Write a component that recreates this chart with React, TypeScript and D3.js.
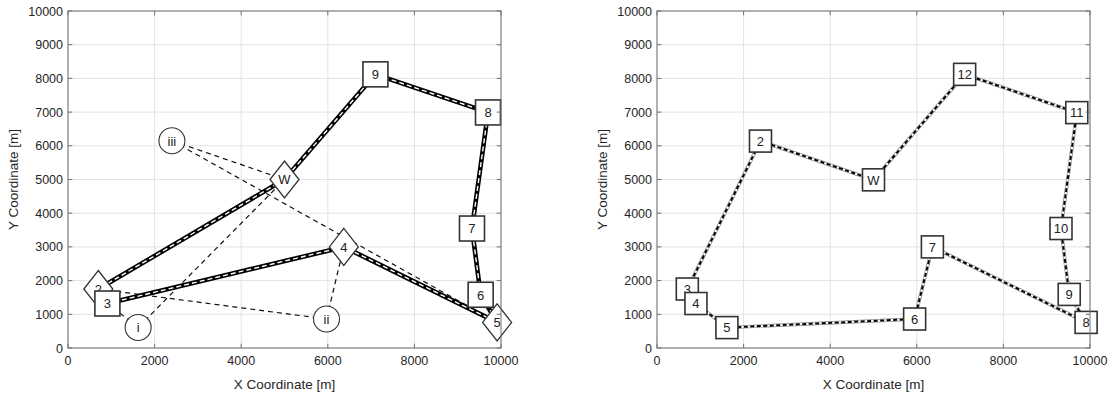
import React from "react";
import * as d3 from "d3";

// ---------- Left panel data ----------
const leftLabels = ["W", "2", "3", "4", "5", "6", "7", "8", "9"];
const leftX = [5000, 700, 910, 6370, 9910, 9530, 9330, 9700, 7100];
const leftY = [5000, 1750, 1320, 3000, 760, 1580, 3545, 6990, 8120];
const leftShapes = ["diamond", "diamond", "square", "diamond", "diamond", "square", "square", "square", "square"];
const leftRoute = ["W", "2", "3", "4", "5", "6", "7", "8", "9", "W"];

const relayLabels = ["i", "ii", "iii"];
const relayX = [1620, 5970, 2400];
const relayY = [610, 860, 6150];
const relayLinks: [string, string][] = [
  ["i", "W"], ["i", "3"],
  ["ii", "2"], ["ii", "4"],
  ["iii", "W"], ["iii", "5"],
];

// ---------- Right panel data ----------
const rightLabels = ["W", "2", "3", "4", "5", "6", "7", "8", "9", "10", "11", "12"];
const rightX = [5000, 2390, 700, 900, 1615, 5950, 6360, 9910, 9520, 9330, 9695, 7105];
const rightY = [4990, 6140, 1750, 1320, 605, 860, 3000, 760, 1590, 3545, 6985, 8120];
const rightRoute = ["W", "2", "3", "4", "5", "6", "7", "8", "9", "10", "11", "12", "W"];

const xTicks = [0, 2000, 4000, 6000, 8000, 10000];
const yTicks = [0, 1000, 2000, 3000, 4000, 5000, 6000, 7000, 8000, 9000, 10000];
const xLabel = "X Coordinate [m]";
const yLabel = "Y Coordinate [m]";

const FONT = "'Liberation Sans', Arial, Helvetica, sans-serif";
const TXT = "#262626";
const AX = "#707070";

type Scale = d3.ScaleLinear<number, number>;

function Axes({ x, y }: { x: Scale; y: Scale }) {
  const [x0, x1] = x.range();
  const [y0, y1] = y.range();
  const tl = 4.3;
  return (
    <g>
      {xTicks.map((t) => (
        <line key={"gx" + t} x1={x(t)} x2={x(t)} y1={y0} y2={y1} stroke="#e3e3e3" strokeWidth={1} />
      ))}
      {yTicks.map((t) => (
        <line key={"gy" + t} x1={x0} x2={x1} y1={y(t)} y2={y(t)} stroke="#e3e3e3" strokeWidth={1} />
      ))}
    </g>
  );
}

function Frame({ x, y }: { x: Scale; y: Scale }) {
  const [x0, x1] = x.range();
  const [y0, y1] = y.range();
  const tl = 4.3;
  return (
    <g>
      <rect x={x0} y={y1} width={x1 - x0} height={y0 - y1} fill="none" stroke={AX} strokeWidth={1} />
      {xTicks.map((t) => (
        <g key={"tx" + t}>
          <line x1={x(t)} x2={x(t)} y1={y0} y2={y0 - tl} stroke={AX} />
          <line x1={x(t)} x2={x(t)} y1={y1} y2={y1 + tl} stroke={AX} />
          <text x={x(t)} y={y0 + 17} textAnchor="middle" fontSize={12.5} fill={TXT} fontFamily={FONT}>
            {t}
          </text>
        </g>
      ))}
      {yTicks.map((t) => (
        <g key={"ty" + t}>
          <line x1={x0} x2={x0 + tl} y1={y(t)} y2={y(t)} stroke={AX} />
          <line x1={x1} x2={x1 - tl} y1={y(t)} y2={y(t)} stroke={AX} />
          <text x={x0 - 5} y={y(t) + 4.5} textAnchor="end" fontSize={12.5} fill={TXT} fontFamily={FONT}>
            {t}
          </text>
        </g>
      ))}
      <text x={(x0 + x1) / 2} y={y0 + 41} textAnchor="middle" fontSize={13.5} fill={TXT} fontFamily={FONT}>
        {xLabel}
      </text>
      <text
        transform={`translate(${x0 - 50},${(y0 + y1) / 2}) rotate(-90)`}
        textAnchor="middle"
        fontSize={13.5}
        fill={TXT}
        fontFamily={FONT}
      >
        {yLabel}
      </text>
    </g>
  );
}

function Marker({ cx, cy, shape, label, size }: { cx: number; cy: number; shape: string; label: string; size: number }) {
  let el;
  if (shape === "diamond") {
    const hw = 14.5, hh = 18.5;
    el = <polygon points={`${cx},${cy - hh} ${cx + hw},${cy} ${cx},${cy + hh} ${cx - hw},${cy}`} fill="#fff" stroke="#333" strokeWidth={1.3} />;
  } else if (shape === "circle") {
    el = <circle cx={cx} cy={cy} r={13} fill="#fff" stroke="#333" strokeWidth={1.1} />;
  } else {
    el = <rect x={cx - size / 2} y={cy - size / 2} width={size} height={size} fill="#fff" stroke="#333" strokeWidth={1.6} />;
  }
  return (
    <g>
      {el}
      <text x={cx} y={cy + 4.8} textAnchor="middle" fontSize={13} fill="#222" fontFamily={FONT}>
        {label}
      </text>
    </g>
  );
}

export default function App() {
  const yS = d3.scaleLinear().domain([0, 10000]).range([348, 11]);
  const xL = d3.scaleLinear().domain([0, 10000]).range([68, 501]);
  const xR = d3.scaleLinear().domain([0, 10000]).range([657, 1090]);
  const line = (xs: Scale) => d3.line<[number, number]>().x((d) => xs(d[0])).y((d) => yS(d[1]));

  const leftPos = (l: string): [number, number] => {
    const i = leftLabels.indexOf(l);
    return [leftX[i], leftY[i]];
  };
  const relayPos = (l: string): [number, number] => {
    const i = relayLabels.indexOf(l);
    return [relayX[i], relayY[i]];
  };
  const rightPos = (l: string): [number, number] => {
    const i = rightLabels.indexOf(l);
    return [rightX[i], rightY[i]];
  };

  const leftPath = line(xL)(leftRoute.map(leftPos)) || "";
  const rightPath = line(xR)(rightRoute.map(rightPos)) || "";

  // draw order: diamonds first, then squares
  const leftOrder = leftLabels
    .map((l, i) => i)
    .sort((a, b) => (leftShapes[a] === leftShapes[b] ? a - b : leftShapes[a] === "diamond" ? -1 : 1));

  return (
    <svg width={1120} height={398} style={{ position: "absolute", left: 0, top: 0, background: "#fff" }}>
      <rect width={1120} height={398} fill="#fff" />
      {/* Left panel */}
      <Axes x={xL} y={yS} />
      {relayLinks.map(([r, n], k) => (
        <path
          key={"rl" + k}
          d={line(xL)([relayPos(r), leftPos(n)]) || ""}
          fill="none"
          stroke="#111"
          strokeWidth={1.2}
          strokeDasharray="5 4"
        />
      ))}
      <path d={leftPath} fill="none" stroke="#000" strokeWidth={4.6} strokeLinejoin="round" />
      <path d={leftPath} fill="none" stroke="#fff" strokeWidth={1.4} strokeDasharray="5 3" strokeLinejoin="round" />
      {leftOrder.map((i) => (
        <Marker key={"lm" + i} cx={xL(leftX[i])} cy={yS(leftY[i])} shape={leftShapes[i]} label={leftLabels[i]} size={25} />
      ))}
      {relayLabels.map((l, i) => (
        <Marker key={"rm" + i} cx={xL(relayX[i])} cy={yS(relayY[i])} shape="circle" label={l} size={26} />
      ))}
      <Frame x={xL} y={yS} />

      {/* Right panel */}
      <Axes x={xR} y={yS} />
      <path d={rightPath} fill="none" stroke="#8a8a8a" strokeWidth={3.4} strokeLinejoin="round" />
      <path d={rightPath} fill="none" stroke="#fff" strokeWidth={2} strokeLinejoin="round" />
      <path d={rightPath} fill="none" stroke="#000" strokeWidth={2} strokeDasharray="4 2.5" strokeLinejoin="round" />
      {rightLabels.map((l, i) => (
        <Marker key={"qm" + i} cx={xR(rightX[i])} cy={yS(rightY[i])} shape="square" label={l} size={22} />
      ))}
      <Frame x={xR} y={yS} />
    </svg>
  );
}
